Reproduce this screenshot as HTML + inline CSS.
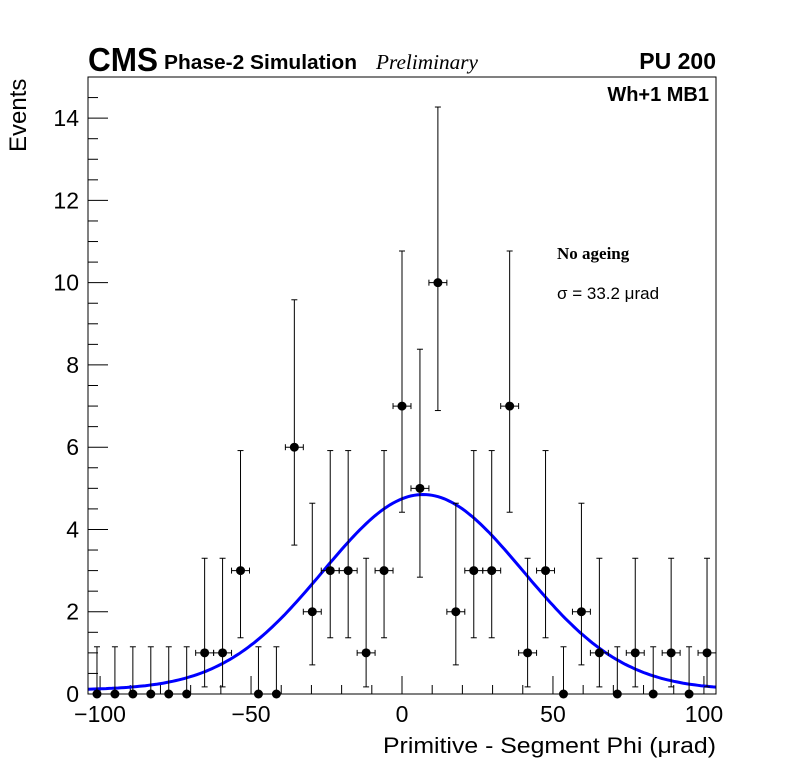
<!DOCTYPE html>
<html><head><meta charset="utf-8"><style>
html,body{margin:0;padding:0;background:#fff;}
svg text{font-family:"Liberation Sans",sans-serif;}
</style></head><body>
<svg id="chart" width="796" height="772" xmlns="http://www.w3.org/2000/svg">
<rect width="796" height="772" fill="#fff"/>
<g id="axes"></g>
<g id="fit"></g>
<g id="pts"></g>
<rect x="88" y="77" width="628" height="617" fill="none" stroke="#000" stroke-width="1"/>
<text x="88" y="71" font-size="33" font-weight="bold" textLength="70" lengthAdjust="spacingAndGlyphs">CMS</text>
<text x="164" y="69" font-size="20" font-weight="bold" textLength="193" lengthAdjust="spacingAndGlyphs">Phase-2 Simulation</text>
<text x="376" y="69" font-size="21" font-style="italic" style="font-family:'Liberation Serif',serif" textLength="102" lengthAdjust="spacingAndGlyphs">Preliminary</text>
<text x="716" y="69" font-size="23" font-weight="bold" text-anchor="end">PU 200</text>
<text x="709" y="101" font-size="20" font-weight="bold" text-anchor="end">Wh+1 MB1</text>
<text x="557" y="259" font-size="17" font-weight="bold" style="font-family:'Liberation Serif',serif">No ageing</text>
<text x="557" y="299" font-size="17">σ = 33.2  μrad</text>
<text x="716" y="753" font-size="22" text-anchor="end" textLength="333" lengthAdjust="spacingAndGlyphs">Primitive - Segment Phi (μrad)</text>
<text transform="translate(26,152) rotate(-90)" font-size="24">Events</text>
</svg>
<script>
const counts=[0,0,0,0,0,0,1,1,3,0,0,6,2,3,3,1,3,7,5,10,2,3,3,7,1,3,0,2,1,0,1,0,1,0,1];
const xMin=-104, xMax=104, yMin=0, yMax=15;
const xTickLabels=[-100,-50,0,50,100];
const yTickLabels=[0,2,4,6,8,10,12,14];
const fitConst=0.1, fitAmp=4.75, fitMean=7, fitSigma=33.2;
const L=88,R=716,T=77,B=694;
const sx=v=>L+(v-xMin)/(xMax-xMin)*(R-L);
const sy=v=>B-(v-yMin)/(yMax-yMin)*(B-T);
const NS="http://www.w3.org/2000/svg";
function mk(tag,attrs,parent){const e=document.createElementNS(NS,tag);for(const k in attrs)e.setAttribute(k,attrs[k]);parent.appendChild(e);return e;}
const ax=document.getElementById('axes');
for(let v=-100;v<=100;v+=10){
  const major=v%50===0;
  const t=mk('line',{x1:sx(v),x2:sx(v),y1:B,y2:B-(major?18:9),stroke:'#000'},ax);
  
  
}
xTickLabels.forEach(v=>{
  const t=mk('text',{x:sx(v),y:722,'font-size':23,'text-anchor':'middle'},ax);
  t.textContent=v<0?'\u2212'+Math.abs(v):String(v);
  
  
});
for(let v=0;v<=15.001;v+=0.5){
  const major=Math.abs(v%2)<1e-6;
  const t=mk('line',{x1:L,x2:L+(major?20:10),y1:sy(v),y2:sy(v),stroke:'#000'},ax);
  
  
}
yTickLabels.forEach(v=>{
  const t=mk('text',{x:79,y:sy(v)+8,'font-size':23,'text-anchor':'end'},ax);
  t.textContent=String(v);
  
  
});
const fg=document.getElementById('fit');
let d='';
for(let x=xMin;x<=xMax;x+=1){
  const y=fitConst+fitAmp*Math.exp(-(x-fitMean)*(x-fitMean)/(2*fitSigma*fitSigma));
  d+=(d?'L':'M')+sx(x).toFixed(1)+','+sy(y).toFixed(1);
}
const fp=mk('path',{d:d,fill:'none',stroke:'#0000ff','stroke-width':3},fg);


const lo={0:0,1:0.173,2:0.708,3:1.367,4:2.086,5:2.840,6:3.620,7:4.419,8:5.232,9:6.057,10:6.891};
const hi={0:1.148,1:3.300,2:4.638,3:5.918,4:7.163,5:8.382,6:9.584,7:10.77,8:11.95,9:13.11,10:14.27};
const pg=document.getElementById('pts');
const w=(xMax-xMin)/counts.length;
counts.forEach((c,i)=>{
  const xc=xMin+(i+0.5)*w;
  const g=mk('g',{},pg);
  
  
  const px=sx(xc);
  mk('line',{x1:px,x2:px,y1:sy(lo[c]),y2:sy(hi[c]),stroke:'#000'},g);
  mk('line',{x1:px-3,x2:px+3,y1:sy(hi[c]),y2:sy(hi[c]),stroke:'#000'},g);
  if(c>0){
    mk('line',{x1:px-3,x2:px+3,y1:sy(lo[c]),y2:sy(lo[c]),stroke:'#000'},g);
    mk('line',{x1:sx(xc-w/2),x2:sx(xc+w/2),y1:sy(c),y2:sy(c),stroke:'#000'},g);
    mk('line',{x1:sx(xc-w/2),x2:sx(xc-w/2),y1:sy(c)-3,y2:sy(c)+3,stroke:'#000'},g);
    mk('line',{x1:sx(xc+w/2),x2:sx(xc+w/2),y1:sy(c)-3,y2:sy(c)+3,stroke:'#000'},g);
  }
  mk('circle',{cx:px,cy:sy(c),r:4.5,fill:'#000'},g);
});
</script>
</body></html>
